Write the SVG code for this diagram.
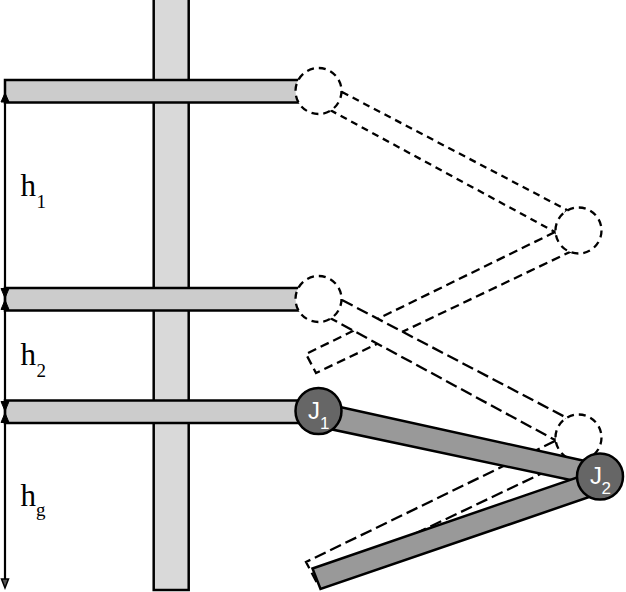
<svg xmlns="http://www.w3.org/2000/svg" width="626" height="592" viewBox="0 0 626 592">
<style>
.mast{fill:#d9d9d9;stroke:#000;stroke-width:2.5}
.bar{fill:#ccc;stroke:#000;stroke-width:2.5}
.link{fill:#999;stroke:#000;stroke-width:2.5}
.ghost{fill:#fff;stroke:#000;stroke-width:2.3;stroke-linejoin:miter}
.short{stroke-dasharray:7 5}
.mid{stroke-dasharray:9 5}
.long{stroke-dasharray:12 5}
.joint{fill:#666;stroke:#000;stroke-width:2.5}
.dim{stroke:#000;stroke-width:2.2;fill:none}
.head{fill:#000;stroke:#000;stroke-width:1}
.h{font-family:"Liberation Serif",serif;fill:#000}
.j{font-family:"Liberation Sans",sans-serif;fill:#fff}
</style>
<rect width="626" height="592" fill="#fff"/>
<g id="mast"><rect class="mast" x="153.7" y="-2" width="35" height="592"/></g>
<g id="bars">
<rect id="bar1" class="bar" x="5" y="80" width="295" height="22.5"/>
<rect id="bar2" class="bar" x="5" y="288" width="295" height="22.5"/>
<rect id="bar3" class="bar" x="5" y="400.5" width="295" height="22.5"/>
</g>
<g id="connectors">
<polygon class="ghost mid" points="555,232 306,354 316,373 572,251"/>
<polygon class="ghost short" points="342,92 567,210 555,232 330,110"/>
<polygon class="ghost long" points="555,441 306,562 316,581 572,459"/>
<polygon class="ghost long" points="342,300 567,418 555,440 330,318"/>
<line class="dim" x1="5" y1="95" x2="5" y2="585"/>
<polygon class="head" points="5,93 1,102 9,102"/>
<polygon class="head" points="5,298 1,288.5 9,288.5"/>
<polygon class="head" points="5,300 1,309.5 9,309.5"/>
<polygon class="head" points="5,411 1,401.5 9,401.5"/>
<polygon class="head" points="5,413 1,422.5 9,422.5"/>
<polygon points="5,588 1.5,579 8.5,579" fill="#555" stroke="#000" stroke-width="1.5"/>
</g>
<g id="ghost-joints">
<circle id="g1" class="ghost short" cx="318.5" cy="91" r="23"/>
<circle id="g2" class="ghost short" cx="578.5" cy="230.5" r="23"/>
<circle id="g3" class="ghost short" cx="318.5" cy="299" r="23"/>
<circle id="g4" class="ghost short" cx="578.5" cy="437.5" r="23"/>
</g>
<g id="upper-link"><polygon class="link" points="340,407 585,461 580,482 330,429"/></g>
<g id="lower-link"><polygon class="link" points="312.5,568.5 590,473 598,494 320.5,589"/></g>
<g id="joint1"><circle class="joint" cx="318.5" cy="411" r="23"/>
<text class="j" x="308" y="418.5" font-size="24">J</text><text class="j" x="320" y="428.5" font-size="17">1</text></g>
<g id="joint2"><circle class="joint" cx="600" cy="476.5" r="23"/>
<text class="j" x="590" y="483.5" font-size="24">J</text><text class="j" x="601.5" y="493.5" font-size="17">2</text></g>
<g id="labels">
<text class="h" x="20.5" y="196" font-size="31">h</text><text class="h" x="36.5" y="208" font-size="19">1</text>
<text class="h" x="20.5" y="365" font-size="31">h</text><text class="h" x="36.5" y="377" font-size="19">2</text>
<text class="h" x="20.5" y="506" font-size="31">h</text><text class="h" x="36" y="516" font-size="19">g</text>
</g>
</svg>
